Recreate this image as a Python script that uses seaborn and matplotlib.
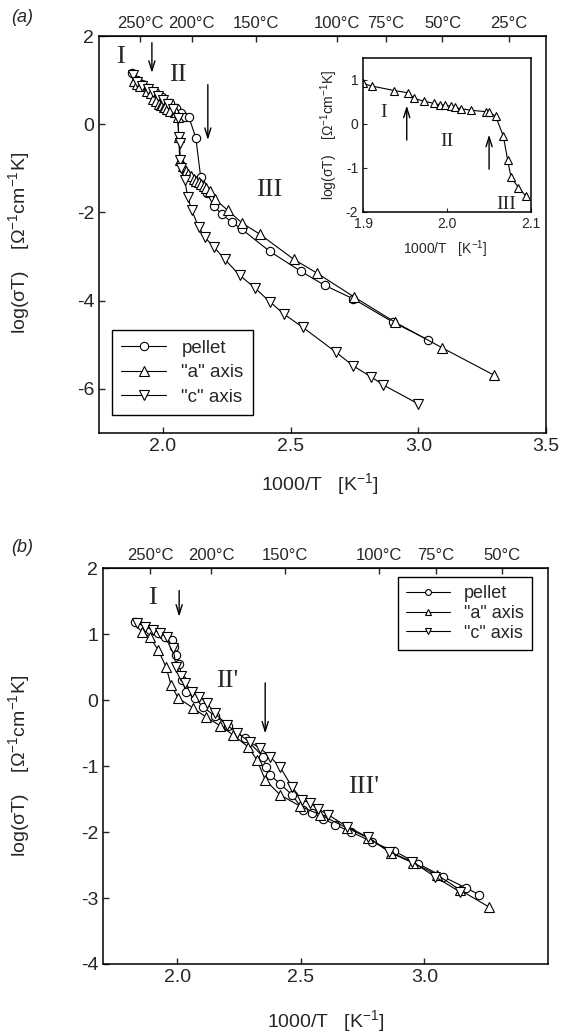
import numpy as np
import matplotlib
matplotlib.use("Agg")
import matplotlib.pyplot as plt
import seaborn as sns

# ---------------- panel (a): as-grown crystals / pellet ----------------
a_pellet_x = [1.879, 1.898, 1.918, 1.941, 1.969, 1.996, 2.027, 2.051, 2.070, 2.086, 2.102, 2.129,
              2.148, 2.172, 2.199, 2.230, 2.270, 2.309, 2.418, 2.539, 2.633, 2.746, 2.902, 3.039]
a_pellet_y = [1.16, 1.00, 0.91, 0.82, 0.73, 0.62, 0.48, 0.37, 0.25, 0.16, 0.16, -0.31,
              -1.20, -1.56, -1.85, -2.04, -2.22, -2.38, -2.88, -3.33, -3.65, -3.96, -4.49, -4.89]

a_aaxis_x = [1.885, 1.900, 1.911, 1.937, 1.953, 1.961, 1.972, 1.984, 1.992, 1.997, 2.005, 2.009,
             2.016, 2.029, 2.046, 2.050, 2.058, 2.062, 2.066, 2.080, 2.090, 2.100, 2.110, 2.120,
             2.130, 2.140, 2.150, 2.160, 2.170, 2.185, 2.203, 2.254, 2.310, 2.379, 2.512, 2.602,
             2.750, 2.910, 3.094, 3.297]
a_aaxis_y = [0.98, 0.92, 0.86, 0.76, 0.71, 0.58, 0.52, 0.47, 0.43, 0.43, 0.40, 0.38,
             0.35, 0.31, 0.28, 0.27, 0.17, -0.28, -0.81, -0.95, -1.05, -1.12, -1.18, -1.24,
             -1.28, -1.32, -1.36, -1.40, -1.44, -1.52, -1.70, -1.95, -2.24, -2.49, -3.06, -3.37,
             -3.92, -4.49, -5.07, -5.69]

a_caxis_x = [1.883, 1.900, 1.920, 1.940, 1.960, 1.980, 2.000, 2.020, 2.040, 2.059, 2.062, 2.066,
             2.068, 2.070, 2.086, 2.097, 2.113, 2.140, 2.164, 2.199, 2.242, 2.300, 2.360, 2.418,
             2.473, 2.547, 2.676, 2.746, 2.816, 2.863, 3.000]
a_caxis_y = [1.12, 0.95, 0.87, 0.80, 0.72, 0.65, 0.55, 0.45, 0.35, 0.14, -0.29, -0.43,
             -0.81, -0.99, -1.27, -1.65, -1.95, -2.33, -2.56, -2.78, -3.06, -3.42, -3.71, -4.02,
             -4.30, -4.60, -5.16, -5.48, -5.73, -5.91, -6.34]

# inset of (a): "a" axis around the transitions
inset_x = [1.900, 1.911, 1.937, 1.953, 1.961, 1.972, 1.984, 1.992, 1.997, 2.005, 2.009,
           2.016, 2.029, 2.046, 2.050, 2.058, 2.067, 2.072, 2.076, 2.085, 2.094]
inset_y = [0.92, 0.86, 0.76, 0.71, 0.58, 0.52, 0.47, 0.43, 0.43, 0.40, 0.38,
           0.35, 0.31, 0.28, 0.27, 0.17, -0.28, -0.81, -1.20, -1.45, -1.64]

# ---------------- panel (b) ----------------
b_pellet_x = [1.830, 1.858, 1.890, 1.923, 1.951, 1.979, 1.987, 1.996, 2.008, 2.020, 2.036, 2.072,
              2.105, 2.153, 2.206, 2.275, 2.348, 2.360, 2.376, 2.417, 2.465, 2.510, 2.546, 2.591,
              2.639, 2.704, 2.789, 2.878, 2.975, 3.077, 3.170, 3.222]
b_pellet_y = [1.18, 1.12, 1.06, 1.02, 0.95, 0.91, 0.80, 0.68, 0.55, 0.30, 0.12, 0.03,
              -0.11, -0.24, -0.39, -0.58, -0.86, -1.02, -1.14, -1.27, -1.44, -1.67, -1.71, -1.80,
              -1.89, -2.00, -2.15, -2.29, -2.48, -2.68, -2.85, -2.95]

b_aaxis_x = [1.858, 1.890, 1.923, 1.955, 1.975, 2.004, 2.064, 2.117, 2.174, 2.226, 2.287, 2.323,
             2.356, 2.417, 2.498, 2.579, 2.688, 2.773, 2.866, 2.955, 3.052, 3.145, 3.263]
b_aaxis_y = [1.03, 0.95, 0.76, 0.50, 0.23, 0.03, -0.12, -0.26, -0.39, -0.53, -0.71, -0.91,
             -1.21, -1.44, -1.61, -1.74, -1.94, -2.09, -2.32, -2.47, -2.65, -2.88, -3.14]

b_caxis_x = [1.838, 1.870, 1.902, 1.931, 1.959, 1.983, 1.996, 2.016, 2.032, 2.060, 2.089, 2.121,
             2.153, 2.202, 2.243, 2.295, 2.336, 2.376, 2.417, 2.465, 2.506, 2.538, 2.570, 2.611,
             2.688, 2.773, 2.858, 2.951, 3.044, 3.145]
b_caxis_y = [1.17, 1.11, 1.06, 1.02, 0.95, 0.79, 0.50, 0.36, 0.26, 0.12, 0.05, -0.05,
             -0.20, -0.38, -0.50, -0.64, -0.73, -0.86, -1.02, -1.32, -1.52, -1.56, -1.65, -1.74,
             -1.92, -2.08, -2.30, -2.45, -2.68, -2.91]

celsius_a = [250, 200, 150, 100, 75, 50, 25]
celsius_b = [250, 200, 150, 100, 75, 50]
celsius_b_pos = [1.890, 2.137, 2.437, 2.817, 3.047, 3.315]  # where they sit on the (b) scale

sns.set_style("ticks")
plt.rcParams['font.family'] = ['Liberation Sans', 'DejaVu Sans']
plt.rcParams['mathtext.default'] = 'regular'
plt.rcParams['axes.unicode_minus'] = False
plt.rcParams['xtick.direction'] = 'in'
plt.rcParams['ytick.direction'] = 'in'

ylab = "log(σT)    [Ω$^{-1}$cm$^{-1}$K]"
xlab = "1000/T   [K$^{-1}$]"
serif = ['Liberation Serif', 'DejaVu Serif']


def draw(ax, x, y, marker, label=None, ms=6.5):
    sns.lineplot(x=x, y=y, ax=ax, sort=False, estimator=None, color='black', lw=0.8,
                 marker=marker, markersize=ms, markerfacecolor='white',
                 markeredgecolor='black', markeredgewidth=0.8, label=label)


def frame(ax):
    for s in ax.spines.values():
        s.set_visible(True)
        s.set_color('black')
        s.set_linewidth(1.1)


def arrow(ax, x, y0, y1, lw=1.0):
    ax.annotate('', xy=(x, y1), xytext=(x, y0),
                arrowprops=dict(arrowstyle='->,head_length=0.7,head_width=0.22', lw=lw, color='black'))


fig = plt.figure(figsize=(5.62, 10.35), dpi=100)

# ---------------- (a) ----------------
ax1 = fig.add_axes([0.1762, 0.5816, 0.7954, 0.3836])
draw(ax1, a_pellet_x, a_pellet_y, 'o', 'pellet', ms=6)
draw(ax1, a_aaxis_x, a_aaxis_y, '^', '"a" axis')
draw(ax1, a_caxis_x, a_caxis_y, 'v', '"c" axis')
ax1.set_xlim(1.75, 3.5)
ax1.set_ylim(-7, 2)
ax1.set_xticks([2.0, 2.5, 3.0, 3.5])
ax1.set_xticklabels(['2.0', '2.5', '3.0', '3.5'])
ax1.set_yticks([2, 0, -2, -4, -6])
ax1.tick_params(labelsize=14, length=4, width=1)
frame(ax1)
ax1.set_xlabel(xlab, fontsize=14)
ax1.set_ylabel(ylab, fontsize=14)
ax1.xaxis.set_label_coords(0.494, -0.095)
ax1.yaxis.set_label_coords(-0.15, 0.48)
ax1.legend(loc='lower left', bbox_to_anchor=(0.029, 0.045), borderaxespad=0, frameon=True,
           fancybox=False, edgecolor='black', framealpha=1, fontsize=13.5, handlelength=2.4,
           labelspacing=0.4, borderpad=0.5)
top1 = ax1.secondary_xaxis('top')
top1.set_xticks([1000 / (t + 273.15) for t in celsius_a], [f"{t}°C" for t in celsius_a])
top1.tick_params(labelsize=12, length=4, width=1, direction='in')

ax1.text(1.832, 1.52, 'I', family=serif, fontsize=19, ha='center', va='center')
ax1.text(2.059, 1.12, 'II', family=serif, fontsize=19, ha='center', va='center')
ax1.text(2.418, -1.49, 'III', family=serif, fontsize=19, ha='center', va='center')
arrow(ax1, 1.957, 1.91, 1.10)
arrow(ax1, 2.176, 0.96, -0.42)

# inset
axi = fig.add_axes([0.646, 0.7952, 0.299, 0.1488])
draw(axi, inset_x, inset_y, '^', ms=5.5)
axi.set_xlim(1.9, 2.1)
axi.set_ylim(-2, 1.5)
axi.set_xticks([1.9, 2.0, 2.1])
axi.set_yticks([-2, -1, 0, 1])
axi.tick_params(labelsize=10, length=3, width=0.8)
frame(axi)
axi.set_xlabel(xlab, fontsize=10)
axi.set_ylabel(ylab, fontsize=10)
axi.xaxis.set_label_coords(0.488, -0.17)
axi.yaxis.set_label_coords(-0.14, 0.5)
axi.text(1.925, 0.25, 'I', family=serif, fontsize=14, ha='center', va='center')
axi.text(2.0, -0.39, 'II', family=serif, fontsize=14, ha='center', va='center')
axi.text(2.07, -1.82, 'III', family=serif, fontsize=14, ha='center', va='center')
arrow(axi, 1.952, -0.43, 0.48)
arrow(axi, 2.05, -1.09, -0.18)

# ---------------- (b) ----------------
ax2 = fig.add_axes([0.1833, 0.0686, 0.7918, 0.3826])
draw(ax2, b_pellet_x, b_pellet_y, 'o', 'pellet', ms=6)
draw(ax2, b_aaxis_x, b_aaxis_y, '^', '"a" axis')
draw(ax2, b_caxis_x, b_caxis_y, 'v', '"c" axis')
ax2.set_xlim(1.7, 3.5)
ax2.set_ylim(-4, 2)
ax2.set_xticks([2.0, 2.5, 3.0])
ax2.set_xticklabels(['2.0', '2.5', '3.0'])
ax2.set_yticks([2, 1, 0, -1, -2, -3, -4])
ax2.tick_params(labelsize=14, length=4, width=1)
frame(ax2)
ax2.set_xlabel(xlab, fontsize=14)
ax2.set_ylabel(ylab, fontsize=14)
ax2.xaxis.set_label_coords(0.5, -0.112)
ax2.yaxis.set_label_coords(-0.16, 0.5)
ax2.legend(loc='upper right', bbox_to_anchor=(0.964, 0.977), borderaxespad=0, frameon=True,
           fancybox=False, edgecolor='black', framealpha=1, fontsize=13, handlelength=2.4,
           labelspacing=0.15, borderpad=0.45, markerscale=0.7)
top2 = ax2.secondary_xaxis('top')
top2.set_xticks(celsius_b_pos, [f"{t}°C" for t in celsius_b])
top2.tick_params(labelsize=12, length=4, width=1, direction='in')

ax2.text(1.9, 1.55, 'I', family=serif, fontsize=19, ha='center', va='center')
ax2.text(2.204, 0.29, "II'", family=serif, fontsize=19, ha='center', va='center')
ax2.text(2.756, -1.32, "III'", family=serif, fontsize=19, ha='center', va='center')
arrow(ax2, 2.008, 1.70, 1.22)
arrow(ax2, 2.356, 0.30, -0.55)

fig.text(22 / 562, 1 - 18 / 1035, '(a)', style='italic', fontsize=13, ha='center', va='center')
fig.text(22 / 562, 1 - 548 / 1035, '(b)', style='italic', fontsize=13, ha='center', va='center')

fig.savefig('out.png', dpi=100)
